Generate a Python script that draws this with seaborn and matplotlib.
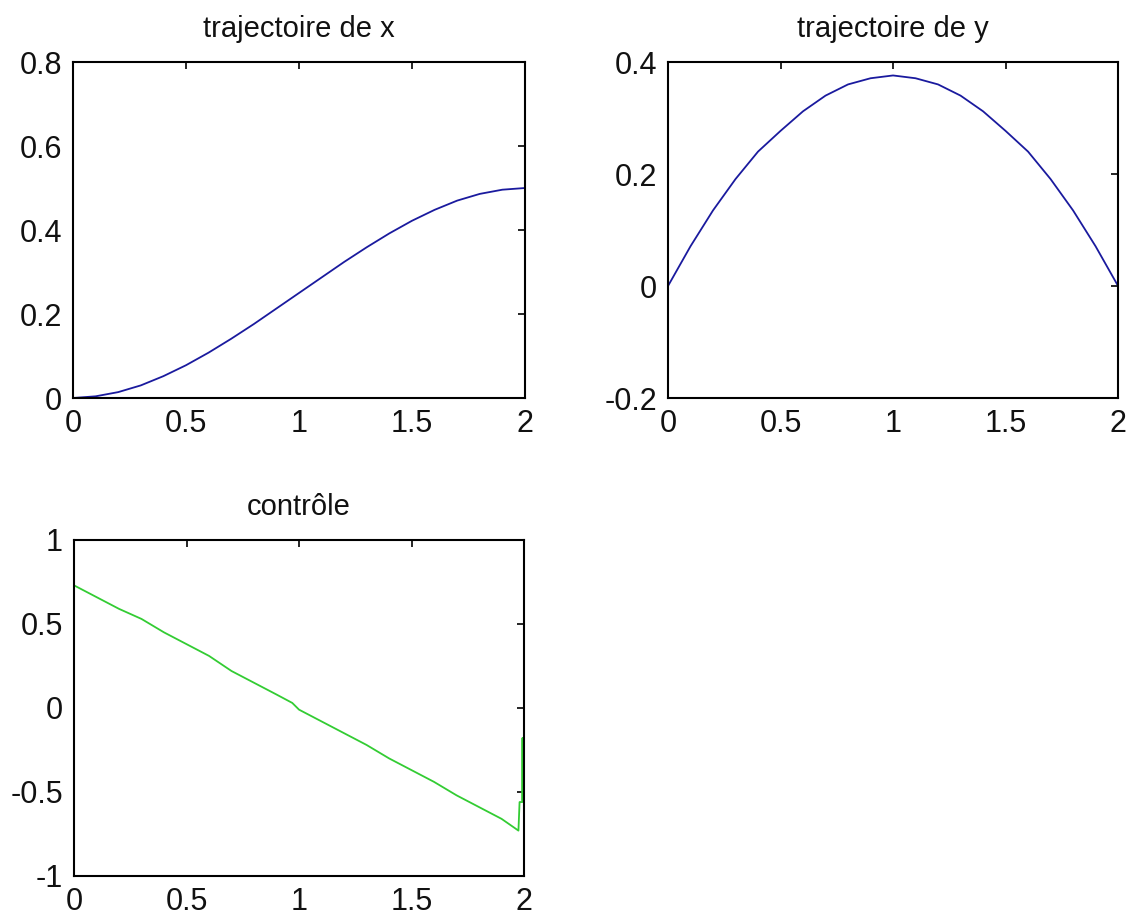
import seaborn as sns
import pandas as pd
import matplotlib
matplotlib.use("Agg")
import matplotlib.pyplot as plt

# values
t = [0.0, 0.1, 0.2, 0.3, 0.4, 0.5, 0.6, 0.7, 0.8, 0.9, 1.0,
     1.1, 1.2, 1.3, 1.4, 1.5, 1.6, 1.7, 1.8, 1.9, 2.0]
traj_x = [0.0, 0.004, 0.014, 0.030, 0.052, 0.078, 0.108, 0.141, 0.176, 0.213, 0.250,
          0.287, 0.324, 0.359, 0.392, 0.422, 0.448, 0.470, 0.486, 0.496, 0.500]
traj_y = [0.0, 0.071, 0.135, 0.191, 0.240, 0.277, 0.312, 0.340, 0.360, 0.371, 0.376,
          0.371, 0.360, 0.340, 0.312, 0.277, 0.240, 0.191, 0.135, 0.071, 0.0]

t_ctrl = [0.0, 0.1, 0.2, 0.3, 0.4, 0.5, 0.6, 0.7, 0.8, 0.9, 0.97, 1.0,
          1.1, 1.2, 1.3, 1.4, 1.5, 1.6, 1.7, 1.8, 1.9, 1.975, 1.98, 1.993, 1.993, 1.993]
ctrl = [0.73, 0.66, 0.59, 0.53, 0.45, 0.38, 0.31, 0.22, 0.15, 0.08, 0.03, -0.01,
        -0.08, -0.15, -0.22, -0.30, -0.37, -0.44, -0.52, -0.59, -0.66, -0.73, -0.56, -0.56, -0.18, -0.55]

df_x = pd.DataFrame({"t": t, "v": traj_x})
df_y = pd.DataFrame({"t": t, "v": traj_y})
df_u = pd.DataFrame({"t": t_ctrl, "v": ctrl})

sns.set_style("white")
plt.rcParams["font.family"] = ["Liberation Sans", "DejaVu Sans"]

fig = plt.figure(figsize=(11.28, 9.16), dpi=100)
ax1 = fig.add_axes([0.0647, 0.5655, 0.4007, 0.3668])
ax2 = fig.add_axes([0.5922, 0.5655, 0.3990, 0.3668])
ax3 = fig.add_axes([0.0656, 0.0437, 0.3990, 0.3668])

blue = "#1a1a9e"
green = "#33cc33"

sns.lineplot(data=df_x, x="t", y="v", ax=ax1, color=blue, lw=1.3, estimator=None, sort=False)
sns.lineplot(data=df_y, x="t", y="v", ax=ax2, color=blue, lw=1.3, estimator=None, sort=False)
sns.lineplot(data=df_u, x="t", y="v", ax=ax3, color=green, lw=1.3, estimator=None, sort=False)

setups = [
    (ax1, "trajectoire de x", (0, 0.8), [0, 0.2, 0.4, 0.6, 0.8], ["0", "0.2", "0.4", "0.6", "0.8"]),
    (ax2, "trajectoire de y", (-0.2, 0.4), [-0.2, 0, 0.2, 0.4], ["-0.2", "0", "0.2", "0.4"]),
    (ax3, "contrôle", (-1, 1), [-1, -0.5, 0, 0.5, 1], ["-1", "-0.5", "0", "0.5", "1"]),
]
for ax, title, ylim, yt, ytl in setups:
    ax.set_xlim(0, 2)
    ax.set_ylim(*ylim)
    ax.set_xticks([0, 0.5, 1, 1.5, 2])
    ax.set_xticklabels(["0", "0.5", "1", "1.5", "2"])
    ax.set_yticks(yt)
    ax.set_yticklabels(ytl)
    ax.set_xlabel("")
    ax.set_ylabel("")
    ax.set_title(title, fontsize=21, pad=18, color="#111111")
    ax.tick_params(direction="in", length=5, width=1.2, labelsize=22, top=True, right=True,
                   color="black", labelcolor="#111111")
    ax.tick_params(axis="x", pad=8)
    ax.tick_params(axis="y", pad=8)
    for s in ax.spines.values():
        s.set_visible(True)
        s.set_color("black")
        s.set_linewidth(1.5)

fig.savefig("out.png", dpi=100, facecolor="white")
